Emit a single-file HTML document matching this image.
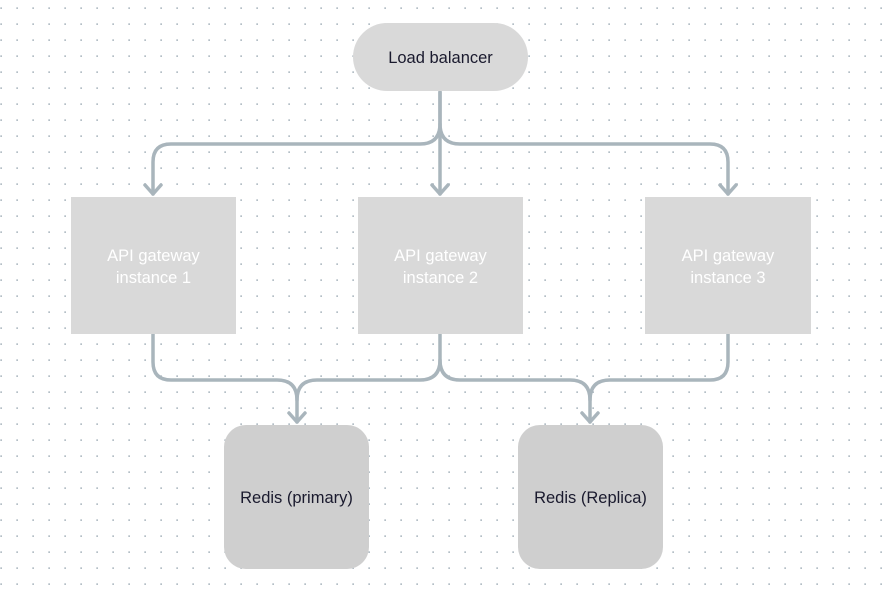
<!DOCTYPE html>
<html><head><style>
body{margin:0;background:#fff;}
svg{display:block;}
text{font-family:"Liberation Sans",sans-serif;font-size:16.5px;}
</style></head><body>
<svg width="883" height="594" viewBox="0 0 883 594" xmlns="http://www.w3.org/2000/svg">
<defs>
<pattern id="dots" x="0" y="0" width="16" height="16" patternUnits="userSpaceOnUse">
<rect x="0.3" y="7.3" width="1.7" height="1.7" fill="#b4bec6"/>
</pattern>
</defs>
<rect width="883" height="594" fill="url(#dots)"/>
<g fill="none" stroke="#a9b5bc" stroke-width="3.5" stroke-linecap="round" stroke-linejoin="round">
<path d="M440 92 V124 Q440 144 420 144 H171 Q153 144 153 162 V194"/>
<path d="M440 124 Q440 144 460 144 H710 Q728 144 728 162 V194"/>
<path d="M440 92 V194"/>
<path d="M145 185 L153 194 L161 185"/>
<path d="M432 185 L440 194 L448 185"/>
<path d="M720 185 L728 194 L736 185"/>
<path d="M153 334 V362 Q153 380 171 380 H277 Q297 380 297 400 V422"/>
<path d="M440 334 V360 Q440 380 420 380 H317 Q297 380 297 400"/>
<path d="M440 360 Q440 380 460 380 H570 Q590 380 590 400 V422"/>
<path d="M728 334 V362 Q728 380 710 380 H610 Q590 380 590 400"/>
<path d="M289 413 L297 422 L305 413"/>
<path d="M582 413 L590 422 L598 413"/>
</g>
<rect x="353" y="23" width="175" height="68" rx="34" fill="#d9d9d9"/>
<text x="440.5" y="63" text-anchor="middle" fill="#1a1a2e">Load balancer</text>
<rect x="71" y="197" width="165" height="137" fill="#d9d9d9"/>
<rect x="358" y="197" width="165" height="137" fill="#d9d9d9"/>
<rect x="645" y="197" width="166" height="137" fill="#d9d9d9"/>
<g fill="#ffffff" text-anchor="middle">
<text x="153.5" y="261">API gateway</text><text x="153.5" y="283">instance 1</text>
<text x="440.5" y="261">API gateway</text><text x="440.5" y="283">instance 2</text>
<text x="728" y="261">API gateway</text><text x="728" y="283">instance 3</text>
</g>
<rect x="224" y="425" width="145" height="144" rx="22" fill="#cfcfcf"/>
<rect x="518" y="425" width="145" height="144" rx="22" fill="#cfcfcf"/>
<g fill="#1a1a2e" text-anchor="middle">
<text x="296.5" y="503">Redis (primary)</text>
<text x="590.5" y="503">Redis (Replica)</text>
</g>
</svg>
</body></html>
